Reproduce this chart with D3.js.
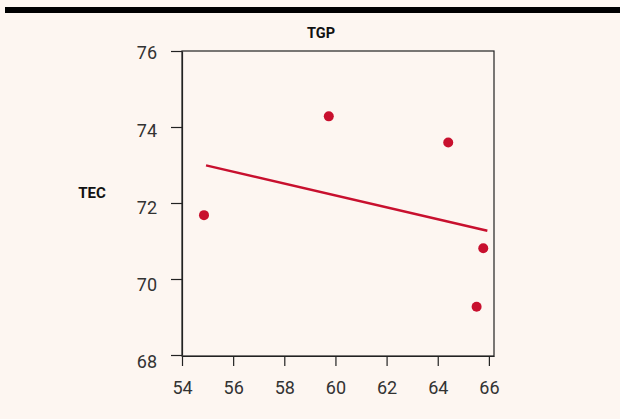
<!DOCTYPE html>
<html>
<head>
<meta charset="utf-8">
<script src="https://cdn.jsdelivr.net/npm/d3@7"></script>
<style>
  html, body { margin: 0; padding: 0; background: #fdf6f1; }
  svg { display: block; }
</style>
</head>
<body>
<svg id="chart"></svg>
<script>
// values
const tgp = [54.86, 59.74, 64.41, 65.78, 65.52];
const tec = [71.68, 74.28, 73.59, 70.81, 69.27];
const trendX = [54.94, 65.94];
const trendY = [72.99, 71.27];
const xTicks = [54, 56, 58, 60, 62, 64, 66];
const yTicks = [68, 70, 72, 74, 76];

const W = 620, H = 419;
const BG = '#fdf6f1';
const RED = '#c8102e';
const TEXT = '#333333';
const FONT = 'Roboto, "Liberation Sans", Arial, sans-serif';

const box = { left: 182, right: 494, top: 51, bottom: 356 };

const svg = d3.select('#chart').attr('width', W).attr('height', H);
svg.append('rect').attr('width', W).attr('height', H).attr('fill', BG);

// top rule
svg.append('rect').attr('x', 5).attr('y', 7).attr('width', W - 5).attr('height', 6).attr('fill', '#000');

const x = d3.scaleLinear().domain([54, 66.2]).range([box.left, box.right]);
const y = d3.scaleLinear().domain([68, 76]).range([box.bottom - 1, box.top]);
// y tick labels sit on their own, slightly lower, even spacing
const yLabel = d3.scaleLinear().domain([68, 76]).range([362, 53]);

// frame
svg.append('rect')
    .attr('x', box.left).attr('y', box.top)
    .attr('width', box.right - box.left).attr('height', box.bottom - box.top)
    .attr('fill', 'none').attr('stroke', '#222').attr('stroke-width', 1.2);

const xAxis = svg.append('g')
    .attr('transform', `translate(0,${box.bottom})`)
    .call(d3.axisBottom(x).tickValues(xTicks).tickSize(10).tickPadding(15).tickSizeOuter(0));
const yAxis = svg.append('g')
    .attr('transform', `translate(${box.left},0)`)
    .call(d3.axisLeft(y).tickValues(yTicks).tickSize(11).tickPadding(14).tickSizeOuter(0));

[xAxis, yAxis].forEach(a => {
    a.select('.domain').attr('stroke', '#222').attr('stroke-width', 1.2);
    a.selectAll('.tick line').attr('stroke', '#222').attr('stroke-width', 1.2);
    a.selectAll('.tick text')
        .attr('fill', TEXT)
        .style('font-family', FONT)
        .style('font-size', '18px');
});
yAxis.selectAll('.tick text').attr('y', d => yLabel(d) - y(d));

// trend line
svg.append('path')
    .datum(trendX.map((d, i) => [d, trendY[i]]))
    .attr('d', d3.line().x(d => x(d[0])).y(d => y(d[1])))
    .attr('fill', 'none')
    .attr('stroke', RED)
    .attr('stroke-width', 2.5);

// points
svg.selectAll('.dot')
    .data(tgp.map((d, i) => ({ x: d, y: tec[i] })))
    .enter().append('circle')
    .attr('class', 'dot')
    .attr('cx', d => x(d.x))
    .attr('cy', d => y(d.y))
    .attr('r', 5)
    .attr('fill', RED);

// axis titles
svg.append('text')
    .attr('x', 321).attr('y', 38)
    .attr('text-anchor', 'middle')
    .style('font-family', FONT).style('font-size', '14.5px').style('font-weight', '700')
    .attr('fill', '#111')
    .text('TGP');

svg.append('text')
    .attr('x', 92).attr('y', 198)
    .attr('text-anchor', 'middle')
    .style('font-family', FONT).style('font-size', '15px').style('font-weight', '700')
    .attr('fill', '#111')
    .text('TEC');
</script>
</body>
</html>
